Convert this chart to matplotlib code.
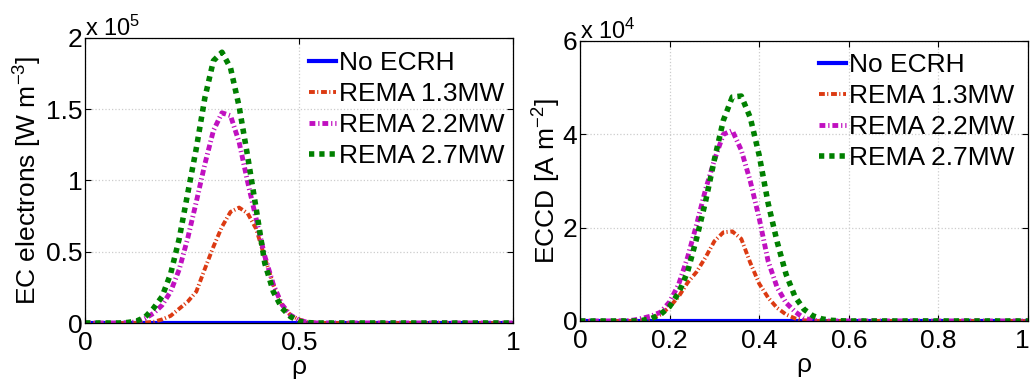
import numpy as np
import matplotlib
matplotlib.use('Agg')
import matplotlib.pyplot as plt
import matplotlib.transforms as mtransforms

plt.rcParams['font.family'] = ['Liberation Sans', 'DejaVu Sans']
plt.rcParams['mathtext.default'] = 'regular'

# radial grid, rho = 0 ... 1 in steps of 0.02
rho = np.linspace(0, 1, 51)

labels = ['No ECRH', 'REMA 1.3MW', 'REMA 2.2MW', 'REMA 2.7MW']

# EC power to electrons, units of 1e5 W m^-3
pe_off = [0.0] * 51
pe_13 = [0, 0, 0, 0, 0, 0, 0, 0.003, 0.008, 0.025,
         0.05, 0.10, 0.15, 0.22, 0.38, 0.535, 0.675, 0.78, 0.81, 0.77,
         0.66, 0.46, 0.27, 0.13, 0.055, 0.025, 0.007, 0.002, 0, 0,
         0, 0, 0, 0, 0, 0, 0, 0, 0, 0,
         0, 0, 0, 0, 0, 0, 0, 0, 0, 0, 0]
pe_22 = [0, 0, 0, 0, 0, 0.002, 0.008, 0.032, 0.068, 0.125,
         0.22, 0.375, 0.595, 0.85, 1.115, 1.35, 1.475, 1.455, 1.27, 0.99,
         0.73, 0.47, 0.27, 0.13, 0.055, 0.02, 0.005, 0, 0, 0,
         0, 0, 0, 0, 0, 0, 0, 0, 0, 0,
         0, 0, 0, 0, 0, 0, 0, 0, 0, 0, 0]
pe_27 = [0, 0, 0, 0, 0, 0.004, 0.013, 0.04, 0.103, 0.185,
         0.345, 0.59, 0.91, 1.225, 1.58, 1.84, 1.90, 1.79, 1.52, 1.17,
         0.80, 0.42, 0.22, 0.105, 0.045, 0.012, 0.003, 0, 0, 0,
         0, 0, 0, 0, 0, 0, 0, 0, 0, 0,
         0, 0, 0, 0, 0, 0, 0, 0, 0, 0, 0]

# EC current drive density, units of 1e4 A m^-2
jcd_off = [0.0] * 51
jcd_13 = [0, 0, 0, 0, 0, 0, 0, 0.012, 0.05, 0.14,
          0.30, 0.52, 0.82, 1.05, 1.36, 1.71, 1.90, 1.92, 1.76, 1.25,
          0.80, 0.50, 0.28, 0.14, 0.055, 0.015, 0.003, 0, 0, 0,
          0, 0, 0, 0, 0, 0, 0, 0, 0, 0,
          0, 0, 0, 0, 0, 0, 0, 0, 0, 0, 0]
jcd_22 = [0, 0, 0, 0, 0, 0.005, 0.02, 0.06, 0.11, 0.19,
          0.41, 0.78, 1.36, 2.06, 2.81, 3.45, 4.0, 4.08, 3.66, 3.0,
          2.2, 1.28, 0.72, 0.39, 0.20, 0.06, 0.015, 0.003, 0, 0,
          0, 0, 0, 0, 0, 0, 0, 0, 0, 0,
          0, 0, 0, 0, 0, 0, 0, 0, 0, 0, 0]
jcd_27 = [0, 0, 0, 0, 0, 0, 0, 0.015, 0.057, 0.143,
          0.31, 0.60, 1.05, 1.76, 2.55, 3.46, 4.30, 4.80, 4.82, 4.36,
          3.55, 2.52, 1.70, 1.00, 0.52, 0.25, 0.11, 0.045, 0.015, 0.004,
          0, 0, 0, 0, 0, 0, 0, 0, 0, 0,
          0, 0, 0, 0, 0, 0, 0, 0, 0, 0, 0]

# line styles: blue solid, red/magenta dash-dot, green dotted
styles = [
    dict(color='#0000FF', lw=3.0, ls='-'),
    dict(color='#DC3A12', lw=2.8, ls=(0, (1.5, 0.6, 0.3, 0.7))),
    dict(color='#C010C0', lw=3.5, ls=(0, (1.2, 0.6, 0.25, 0.6))),
    dict(color='#008000', lw=4.0, ls=(0, (0.95, 0.9))),
]

FS = 19

fig = plt.figure(figsize=(10.33, 3.81), dpi=100)
ax1 = fig.add_axes([0.0823, 0.1522, 0.4143, 0.7481])
ax2 = fig.add_axes([0.5615, 0.1575, 0.4336, 0.7349])


def setup(ax, ymax, yticks, xticks, xticklabels, yticklabels, ylabel, expo, lpad):
    ax.set_xlim(0, 1)
    ax.set_ylim(0, ymax)
    ax.set_xticks(xticks)
    ax.set_xticklabels(xticklabels)
    ax.set_yticks(yticks)
    ax.set_yticklabels(yticklabels)
    ax.tick_params(direction='in', top=True, right=True, length=4, width=0.8,
                   labelsize=FS)
    ax.tick_params(axis='x', pad=6)
    ax.tick_params(axis='y', pad=2)
    ax.grid(True, linestyle=':', color='#cccccc', linewidth=0.9)
    for sp in ax.spines.values():
        sp.set_linewidth(0.9)
    ax.set_xlabel('ρ', fontsize=FS, labelpad=0)
    ax.set_ylabel(ylabel, fontsize=FS, labelpad=lpad)
    ax.text(0, 1.007, 'x 10$^{%d}$' % expo, transform=ax.transAxes,
            fontsize=17, va='baseline', ha='left')


for ax, series in [(ax1, [pe_off, pe_13, pe_22, pe_27]),
                   (ax2, [jcd_off, jcd_13, jcd_22, jcd_27])]:
    for y, lab, st in zip(series, labels, styles):
        ax.plot(rho, y, label=lab, color=st['color'], lw=st['lw'],
                linestyle=st['ls'], dash_capstyle='butt')

setup(ax1, 2, [0, 0.5, 1, 1.5, 2], [0, 0.5, 1], ['0', '0.5', '1'],
      ['0', '0.5', '1', '1.5', '2'], 'EC electrons [W m$^{-3}$]', 5, 1)
setup(ax2, 6, [0, 2, 4, 6], [0, 0.2, 0.4, 0.6, 0.8, 1],
      ['0', '0.2', '0.4', '0.6', '0.8', '1'], ['0', '2', '4', '6'],
      'ECCD [A m$^{-2}$]', 4, 0)

# nudge the last x label of the right panel so it stays inside the figure
last = ax2.get_xticklabels()[-1]
last.set_transform(last.get_transform() +
                   mtransforms.ScaledTranslation(-4 / 72, 0, fig.dpi_scale_trans))

for ax, x0, y0 in [(ax1, 0.524, 0.955), (ax2, 0.534, 0.958)]:
    ax.legend(loc='upper left', bbox_to_anchor=(x0, y0), frameon=False,
              fontsize=FS, handlelength=1.0, handletextpad=0.12,
              labelspacing=0.27, borderpad=0, borderaxespad=0)

fig.savefig('out.png', dpi=100)
